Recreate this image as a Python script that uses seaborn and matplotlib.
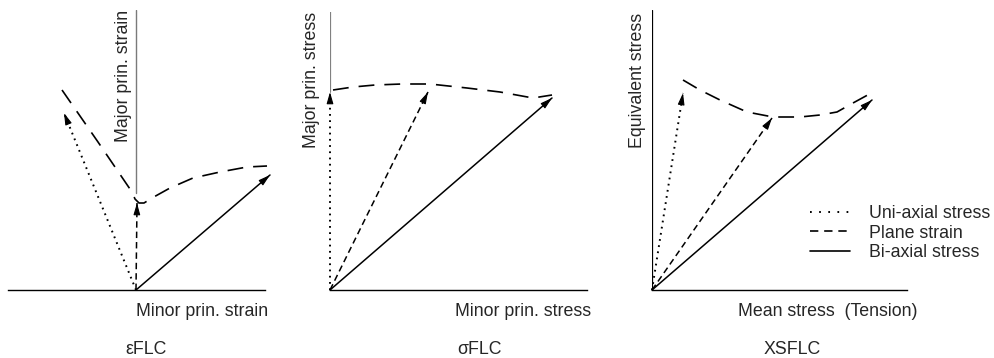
import numpy as np
import matplotlib
matplotlib.use('Agg')
import matplotlib.pyplot as plt
from matplotlib.lines import Line2D
import seaborn as sns

# schematic coordinates, pixel-like units relative to each panel's origin (y up)
# panel 1: strain based FLC
eps_uni = [(0, 0), (-72, 177)]
eps_plane = [(0, 0), (1, 87)]
eps_bi = [(0, 0), (134, 115)]
eps_flc_x = [-74, -38, -4, -1, 3, 8, 16, 34, 57, 84, 111, 131]
eps_flc_y = [200, 148, 98, 91, 87, 87, 92, 102, 112, 118, 123, 124]

# panel 2: stress based FLC
sig_uni = [(0, 0), (0, 198)]
sig_plane = [(0, 0), (98, 198)]
sig_bi = [(0, 0), (222, 192)]
sig_flc_x = [3, 23, 45, 72, 100, 137, 170, 203, 222]
sig_flc_y = [200, 203, 205, 206, 206, 202, 198, 192, 195]

# panel 3: extended stress based FLC
xs_uni = [(0, 0), (31, 197)]
xs_plane = [(0, 0), (120, 172)]
xs_bi = [(0, 0), (220, 190)]
xs_flc_x = [31, 48, 68, 95, 121, 148, 168, 185, 201, 223]
xs_flc_y = [210, 200, 190, 178, 173, 173, 175, 178, 187, 199]

legend_labels = ['Uni-axial stress', 'Plane strain', 'Bi-axial stress']

W, H = 994, 358
FS = 12.8
DOT = (0, (0.9, 2.3))
DASH = (0, (4.2, 2.6))
LONG = (0, (9.5, 6))

sns.set_theme(style='white')
plt.rcParams['font.family'] = ['Liberation Sans', 'DejaVu Sans']


def arrow(ax, pts, ls, lw=1.1):
    (x0, y0), (x1, y1) = pts
    sns.lineplot(x=[x0, x1], y=[y0, y1], sort=False, estimator=None, color='black',
                 lw=lw, linestyle=ls, ax=ax, clip_on=False)
    back = 10.0 / np.hypot(x1 - x0, y1 - y0)
    ax.annotate('', xy=(x1, y1), xytext=(x1 - (x1 - x0) * back, y1 - (y1 - y0) * back),
                arrowprops=dict(arrowstyle='-|>,head_length=0.7,head_width=0.2', color='black',
                                lw=0.8, shrinkA=0, shrinkB=0, mutation_scale=10),
                annotation_clip=False)


def panel(ox, oy, left, right, top):
    # ox, oy: origin in figure pixels; extents in pixels relative to origin
    ax = fig.add_axes([(ox + left) / W, (H - oy) / H, (right - left) / W, top / H])
    ax.set_xlim(left, right)
    ax.set_ylim(0, top)
    ax.set_xticks([])
    ax.set_yticks([])
    for s in ['top', 'right', 'left']:
        ax.spines[s].set_visible(False)
    ax.spines['bottom'].set_color('black')
    ax.spines['bottom'].set_linewidth(1.0)
    ax.patch.set_alpha(0)
    return ax


fig = plt.figure(figsize=(W / 100, H / 100), dpi=100)

# panel 1
ax1 = panel(136, 290, -128, 129, 280)
ax1.plot([0, 0], [97, 280], color='#7a7a7a', lw=1.0)
arrow(ax1, eps_uni, DOT, lw=1.4)
arrow(ax1, eps_plane, DASH)
arrow(ax1, eps_bi, '-')
sns.lineplot(x=eps_flc_x, y=eps_flc_y, sort=False, estimator=None, color='black', lw=1.2,
             linestyle=LONG, ax=ax1, clip_on=False)
ax1.text(-12, 280, 'Major prin. strain', rotation=90, ha='center', va='top', fontsize=FS)
ax1.text(0, -22, 'Minor prin. strain', ha='left', va='center', fontsize=FS)
ax1.text(10, -60, 'εFLC', ha='center', va='center', fontsize=FS)

# panel 2
ax2 = panel(330, 290, 0, 257, 278)
ax2.plot([0, 0], [198, 278], color='#808080', lw=1.6)
arrow(ax2, sig_uni, DOT, lw=1.4)
arrow(ax2, sig_plane, DASH)
arrow(ax2, sig_bi, '-')
sns.lineplot(x=sig_flc_x, y=sig_flc_y, sort=False, estimator=None, color='black', lw=1.2,
             linestyle=LONG, ax=ax2, clip_on=False)
ax2.text(-18, 278, 'Major prin. stress', rotation=90, ha='center', va='top', fontsize=FS)
ax2.text(125, -22, 'Minor prin. stress', ha='left', va='center', fontsize=FS)
ax2.text(149, -60, 'σFLC', ha='center', va='center', fontsize=FS)

# panel 3
ax3 = panel(652, 290, 0, 255, 280)
ax3.plot([0, 0], [0, 280], color='black', lw=0.9)
arrow(ax3, xs_uni, DOT, lw=1.4)
arrow(ax3, xs_plane, DASH)
arrow(ax3, xs_bi, '-')
sns.lineplot(x=xs_flc_x, y=xs_flc_y, sort=False, estimator=None, color='black', lw=1.2,
             linestyle=LONG, ax=ax3, clip_on=False)
ax3.text(-15, 277, 'Equivalent stress', rotation=90, ha='center', va='top', fontsize=FS)
ax3.text(86, -22, 'Mean stress  (Tension)', ha='left', va='center', fontsize=FS)
ax3.text(140, -60, 'XSFLC', ha='center', va='center', fontsize=FS)

handles = [Line2D([], [], color='black', lw=w, linestyle=ls)
           for ls, w in [((0, (0.9, 3.8)), 1.4), ((0, (5, 3.5)), 1.2), ('-', 1.2)]]
fig.legend(handles, legend_labels, loc='center left', bbox_to_anchor=(810 / W, 1 - 233 / H),
           bbox_transform=fig.transFigure, frameon=False, fontsize=FS, borderpad=0,
           borderaxespad=0, handlelength=40 / 17.6, handletextpad=18 / 17.6, labelspacing=0.15)

plt.savefig('out.png', dpi=100)
plt.close()
